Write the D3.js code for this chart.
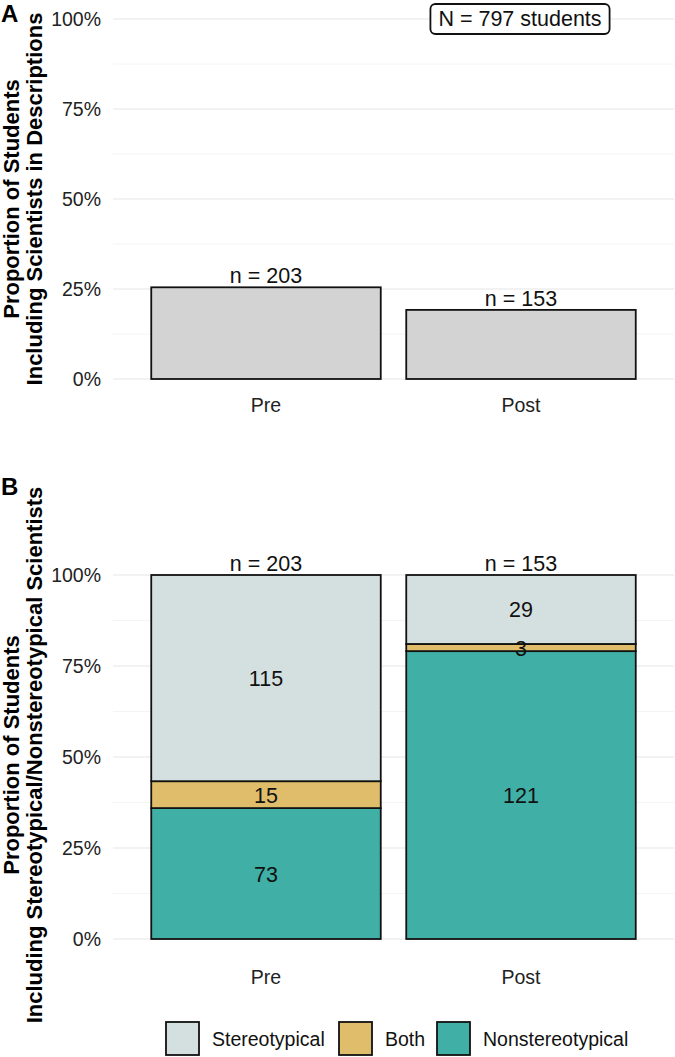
<!DOCTYPE html>
<html>
<head>
<meta charset="utf-8">
<script src="https://cdn.jsdelivr.net/npm/d3@7/dist/d3.min.js"></script>
<style>
  html, body { margin: 0; padding: 0; background: #fff; }
  svg { display: block; font-family: "Liberation Sans", Arial, Helvetica, sans-serif; }
</style>
</head>
<body>
<svg id="chart" width="675" height="1057"></svg>
<script>
// ---- data ----
const categories = ["Pre", "Post"];
const totalStudents = 797;
const studentsIncluding = [203, 153];
const stereotypical = [115, 29];
const both = [15, 3];
const nonstereotypical = [73, 121];
const seriesNames = ["Stereotypical", "Both", "Nonstereotypical"];
const seriesColors = ["#d4e0df", "#e0bd6a", "#40afa5"];
const yTicks = [0, 0.25, 0.5, 0.75, 1];
const yMinorTicks = [0.125, 0.375, 0.625, 0.875];
const titleA = ["Proportion of Students", "Including Scientists in Descriptions"];
const titleB = ["Proportion of Students", "Including Stereotypical/Nonstereotypical Scientists"];

const svg = d3.select("#chart");
const pct = d3.format(".0%");

const x = d3.scaleBand().domain(categories).range([113, 674])
  .paddingInner(0.1).paddingOuter(0.15);

function panel(y, titleLines, letter, letterY, xLabelY, titleCenter) {
  const g = svg.append("g");
  // grid
  g.selectAll("line.minor").data(yMinorTicks).join("line")
    .attr("x1", 113).attr("x2", 674)
    .attr("y1", d => y(d)).attr("y2", d => y(d))
    .attr("stroke", "#f4f4f4").attr("stroke-width", 1);
  g.selectAll("line.major").data(yTicks).join("line")
    .attr("x1", 113).attr("x2", 674)
    .attr("y1", d => y(d)).attr("y2", d => y(d))
    .attr("stroke", "#e6e6e6").attr("stroke-width", 1.1);
  // y axis labels
  const ya = d3.axisLeft(y).tickValues(yTicks).tickFormat(pct).tickSize(0).tickPadding(0);
  const ag = g.append("g").attr("transform", "translate(101,0)").call(ya);
  ag.select(".domain").remove();
  ag.selectAll("text").attr("font-size", 19.5).attr("fill", "#222")
    .attr("font-family", "Liberation Sans, Arial, sans-serif");
  // x axis labels
  const xa = d3.axisBottom(x).tickSize(0).tickPadding(0);
  const xg = g.append("g").attr("transform", `translate(0,${xLabelY})`).call(xa);
  xg.select(".domain").remove();
  xg.selectAll("text").attr("font-size", 19.5).attr("fill", "#222")
    .attr("font-family", "Liberation Sans, Arial, sans-serif").attr("dy", "0");
  // title
  titleLines.forEach((t, i) => {
    g.append("text")
      .attr("transform", `translate(${19 + i * 23},${titleCenter}) rotate(-90)`)
      .attr("text-anchor", "middle").attr("font-weight", "bold")
      .attr("font-size", 22).attr("fill", "#000").text(t);
  });
  g.append("text").attr("x", 1).attr("y", letterY)
    .attr("font-weight", "bold").attr("font-size", 24).attr("fill", "#000").text(letter);
  return g;
}

// ---- Panel A ----
const yA = d3.scaleLinear().domain([0, 1]).range([379, 19]);
const gA = panel(yA, titleA, "A", 22, 412, 199);
const propA = categories.map((c, i) => ({ c, n: studentsIncluding[i], p: studentsIncluding[i] / totalStudents }));
gA.selectAll("rect.bar").data(propA).join("rect")
  .attr("x", d => x(d.c)).attr("width", x.bandwidth())
  .attr("y", d => yA(d.p)).attr("height", d => yA(0) - yA(d.p))
  .attr("fill", "#d3d3d3").attr("stroke", "#111").attr("stroke-width", 1.8);
gA.selectAll("text.n").data(propA).join("text")
  .attr("x", d => x(d.c) + x.bandwidth() / 2).attr("y", d => yA(d.p) - 4)
  .attr("text-anchor", "middle").attr("font-size", 21.5).attr("fill", "#111")
  .text(d => `n = ${d.n}`);
// N box
const nLabel = `N = ${totalStudents} students`;
const nx = x("Post") + x.bandwidth() / 2 - 1, ny = yA(1);
const nText = gA.append("text").attr("x", nx).attr("y", ny)
  .attr("text-anchor", "middle").attr("dominant-baseline", "central")
  .attr("font-size", 21.5).attr("fill", "#111").text(nLabel);
const bb = nText.node().getBBox();
gA.append("rect")
  .attr("x", bb.x - 8).attr("y", ny - 15).attr("width", bb.width + 16).attr("height", 30)
  .attr("rx", 5).attr("fill", "#fff").attr("stroke", "#111").attr("stroke-width", 1.8);
nText.raise();

// ---- Panel B ----
const yB = d3.scaleLinear().domain([0, 1]).range([939, 575]);
const gB = panel(yB, titleB, "B", 495, 984, 755);
const rows = categories.map((c, i) => ({
  c, total: studentsIncluding[i],
  Stereotypical: stereotypical[i], Both: both[i], Nonstereotypical: nonstereotypical[i]
}));
const stack = d3.stack().keys(["Nonstereotypical", "Both", "Stereotypical"])
  .value((d, k) => d[k] / d.total);
const layers = stack(rows);
const color = d3.scaleOrdinal().domain(seriesNames).range(seriesColors);
layers.forEach(layer => {
  gB.selectAll(null).data(layer).join("rect")
    .attr("x", d => x(d.data.c)).attr("width", x.bandwidth())
    .attr("y", d => yB(d[1])).attr("height", d => yB(d[0]) - yB(d[1]))
    .attr("fill", color(layer.key)).attr("stroke", "#111").attr("stroke-width", 1.8);
});
layers.forEach(layer => {
  gB.selectAll(null).data(layer).join("text")
    .attr("x", d => x(d.data.c) + x.bandwidth() / 2)
    .attr("y", d => (yB(d[0]) + yB(d[1])) / 2 + 1)
    .attr("text-anchor", "middle").attr("dominant-baseline", "central")
    .attr("font-size", 21.5).attr("fill", "#111")
    .text(d => d.data[layer.key]);
});
gB.selectAll("text.n").data(rows).join("text")
  .attr("x", d => x(d.c) + x.bandwidth() / 2).attr("y", yB(1) - 4)
  .attr("text-anchor", "middle").attr("font-size", 21.5).attr("fill", "#111")
  .text(d => `n = ${d.total}`);

// ---- Legend ----
const legendX = [166, 339, 437];
const lg = svg.append("g");
seriesNames.forEach((s, i) => {
  lg.append("rect").attr("x", legendX[i]).attr("y", 1022).attr("width", 33).attr("height", 33)
    .attr("fill", color(s)).attr("stroke", "#111").attr("stroke-width", 1.8);
  lg.append("text").attr("x", legendX[i] + 46).attr("y", 1039)
    .attr("dominant-baseline", "central").attr("font-size", 19.5).attr("fill", "#111").text(s);
});
</script>
</body>
</html>
